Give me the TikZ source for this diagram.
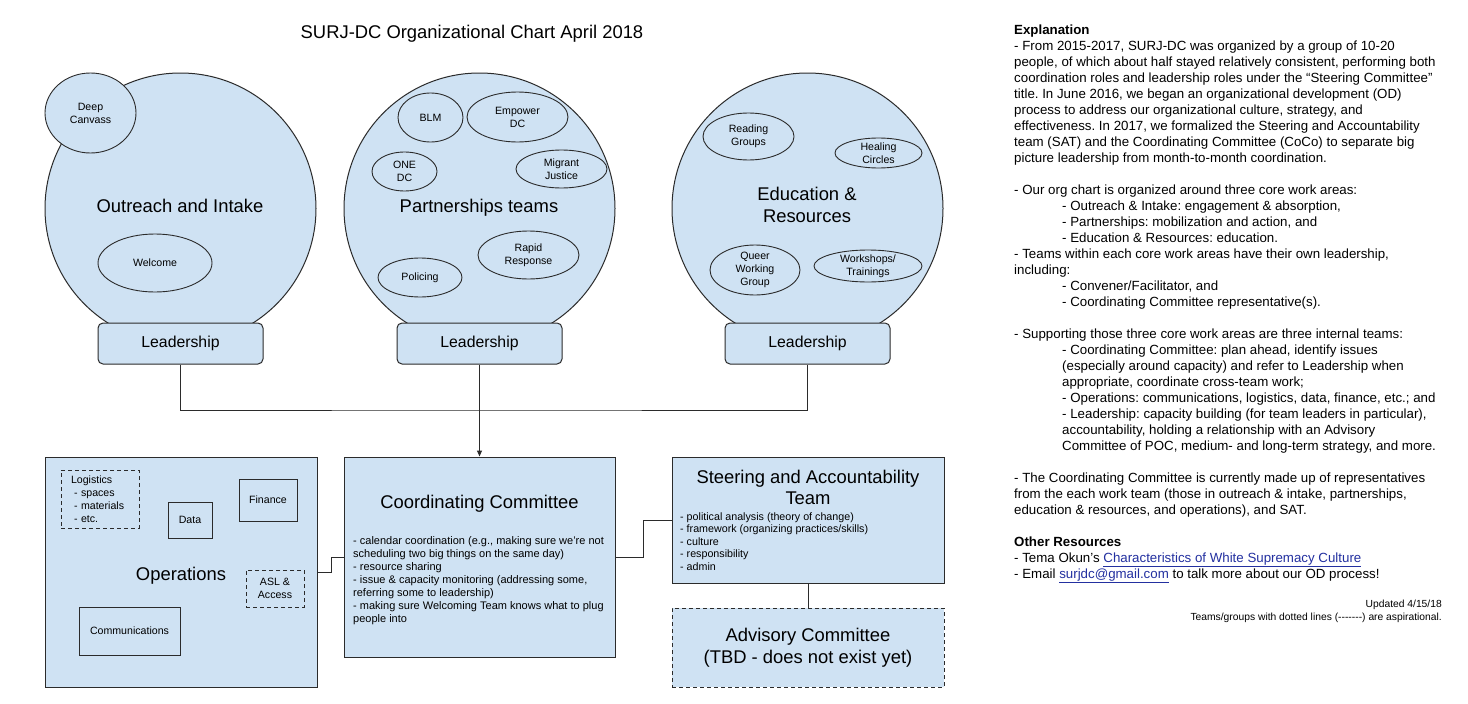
\documentclass[tikz,border=0pt]{standalone}
\usepackage{fontspec}
\setmainfont{Liberation Sans}
\usetikzlibrary{shapes.geometric,arrows.meta}
\definecolor{lb}{HTML}{CFE2F3}
\definecolor{ln}{HTML}{2B2B2B}
\definecolor{linkc}{HTML}{2330A0}
\newcommand\indt{\hspace*{48pt}}
\begin{document}
\frenchspacing
\begin{tikzpicture}[x=1pt,y=-1pt,
 every node/.style={inner sep=0pt, text=black},
 area/.style={circle, draw=ln, fill=lb, line width=1pt, minimum size=271pt},
 team/.style={ellipse, draw=ln, fill=lb, line width=0.9pt, align=center, inner sep=-2pt, font=\fontsize{10.6}{13}\selectfont},
 lead/.style={rectangle, rounded corners=5pt, draw=ln, fill=lb, line width=1pt, minimum width=165pt, minimum height=41pt, font=\fontsize{15.8}{19}\selectfont},
 bigbox/.style={rectangle, draw=ln, fill=lb, line width=1pt},
 subbox/.style={rectangle, draw=ln, fill=lb, line width=0.9pt, align=center, font=\fontsize{10.6}{13}\selectfont},
 aspire/.style={dash pattern=on 4pt off 3pt},
 big/.style={font=\fontsize{18.4}{22}\selectfont, align=center},
 bullets/.style={align=left, anchor=north west},
 conn/.style={draw=ln, line width=1pt}
]
\useasboundingbox[fill=white] (0,0) rectangle (1468,704);

% title
\node[big, anchor=base] (title) at (472,38) {SURJ-DC Organizational Chart April 2018};

% core work areas
\node[area] (oi) at (180.5,208.5) {};
\node[area] (pt) at (479.5,208.5) {};
\node[area] (er) at (807.5,208.5) {};

\node[team, minimum width=91pt, minimum height=80pt] (deep) at (90.5,113) {Deep\\Canvass};
\node[team, minimum width=114pt, minimum height=58pt] (welcome) at (155,263) {Welcome};
\node[big, anchor=base] (oil) at (180,212) {Outreach and Intake};

\node[team, minimum width=65pt, minimum height=49pt] (blm) at (430.5,117.5) {BLM};
\node[team, minimum width=101pt, minimum height=50pt] (empower) at (517.5,117) {Empower\\DC};
\node[team, minimum width=65pt, minimum height=39pt] (onedc) at (404.5,171.5) {ONE\\DC};
\node[team, minimum width=91pt, minimum height=38pt] (migrant) at (561.5,169) {Migrant\\Justice};
\node[team, minimum width=101pt, minimum height=48pt] (rapid) at (528.5,255) {Rapid\\Response};
\node[team, minimum width=84pt, minimum height=39pt] (policing) at (420,277.5) {Policing};
\node[big, anchor=base] (ptl) at (479,212) {Partnerships teams};

\node[team, minimum width=91pt, minimum height=47pt] (reading) at (748.5,136.5) {Reading\\Groups};
\node[team, minimum width=87pt, minimum height=30pt] (healing) at (878.5,153) {Healing\\Circles};
\node[team, minimum width=90pt, minimum height=50pt] (queer) at (755,270) {Queer\\Working\\Group};
\node[team, minimum width=108pt, minimum height=32pt] (workshops) at (868,266) {Workshops/\\Trainings};
\node[big, anchor=north] (erl) at (807,186.6) {Education \&\\Resources};

\node[lead] (lead1) at (180.5,343.5) {Leadership};
\node[lead] (lead2) at (479.5,343.5) {Leadership};
\node[lead] (lead3) at (807.5,343.5) {Leadership};

% internal teams
\node[bigbox, minimum width=272pt, minimum height=230pt] (ops) at (181,572) {};
\node[subbox, aspire, minimum height=58pt, text width=58pt, inner xsep=10pt, align=left] (logistics) at (100,499) {Logistics\\\hspace*{3pt}- spaces\\\hspace*{3pt}- materials\\\hspace*{3pt}- etc.};
\node[subbox, minimum width=44pt, minimum height=36pt] (data) at (190,520) {Data};
\node[subbox, minimum width=58pt, minimum height=42pt] (finance) at (268,500) {Finance};
\node[subbox, aspire, minimum width=58pt, minimum height=37pt] (asl) at (275,588.5) {ASL \&\\Access};
\node[subbox, minimum width=101pt, minimum height=48pt] (comm) at (129.5,631) {Communications};
\node[big, anchor=base] (opsl) at (181,580) {Operations};

\node[bigbox, minimum width=271pt, minimum height=200pt] (coco) at (479.5,557) {};
\node[big, anchor=base] (cocol) at (479.5,508) {Coordinating Committee};
\node[bullets, font=\fontsize{11}{13}\selectfont] (cocot) at (353,536) {- calendar coordination (e.g., making sure we’re not\\
scheduling two big things on the same day)\\
- resource sharing\\
- issue \& capacity monitoring (addressing some,\\
referring some to leadership)\\
- making sure Welcoming Team knows what to plug\\
people into};

\node[bigbox, minimum width=272pt, minimum height=126pt] (sat) at (808,520) {};
\node[big, anchor=north, font=\fontsize{18.4}{21}\selectfont] (satl) at (808,469.6) {Steering and Accountability\\Team};
\node[bullets, font=\fontsize{10.7}{12.5}\selectfont] (satt) at (680,512.2) {- political analysis (theory of change)\\
- framework (organizing practices/skills)\\
- culture\\
- responsibility\\
- admin};

\node[bigbox, aspire, minimum width=272pt, minimum height=79pt, big] (adv) at (808,647.5) {Advisory Committee\\(TBD - does not exist yet)};

% connectors
\coordinate (join) at (479.5,410);
\draw[conn] (lead1.south) |- (join) -| (lead3.south);
\draw[conn, -{Triangle[length=6pt,width=5pt]}] (lead2.south) -- (coco.north);
\draw[conn] (ops.east) -- ++(14,0) |- (coco.west);
\draw[conn] (coco.east) -- ++(28,0) |- (sat.west);
\draw[conn] (sat.south) -- (adv.north);

% explanation
\node[bullets, font=\fontsize{13.3}{16}\selectfont] (expl) at (1014,24.3) {\textbf{Explanation}\\
- From 2015-2017, SURJ-DC was organized by a group of 10-20\\
people, of which about half stayed relatively consistent, performing both\\
coordination roles and leadership roles under the “Steering Committee”\\
title. In June 2016, we began an organizational development (OD)\\
process to address our organizational culture, strategy, and\\
effectiveness. In 2017, we formalized the Steering and Accountability\\
team (SAT) and the Coordinating Committee (CoCo) to separate big\\
picture leadership from month-to-month coordination.\\[16pt]
- Our org chart is organized around three core work areas:\\
\indt- Outreach \& Intake: engagement \& absorption,\\
\indt- Partnerships: mobilization and action, and\\
\indt- Education \& Resources: education.\\
- Teams within each core work areas have their own leadership,\\
including:\\
\indt- Convener/Facilitator, and\\
\indt- Coordinating Committee representative(s).\\[16pt]
- Supporting those three core work areas are three internal teams:\\
\indt- Coordinating Committee: plan ahead, identify issues\\
\indt(especially around capacity) and refer to Leadership when\\
\indt appropriate, coordinate cross-team work;\\
\indt- Operations: communications, logistics, data, finance, etc.; and\\
\indt- Leadership: capacity building (for team leaders in particular),\\
\indt accountability, holding a relationship with an Advisory\\
\indt Committee of POC, medium- and long-term strategy, and more.\\[16pt]
- The Coordinating Committee is currently made up of representatives\\
from the each work team (those in outreach \& intake, partnerships,\\
education \& resources, and operations), and SAT.\\[16pt]
\textbf{Other Resources}\\
- Tema Okun’s {\color{linkc}\underline{Characteristics of White Supremacy Culture}}\\
- Email {\color{linkc}\underline{surjdc@gmail.com}} to talk more about our OD process!};

\node[align=right, anchor=north east, font=\fontsize{10.3}{13}\selectfont] (note) at (1442,599.5) {Updated 4/15/18\\Teams/groups with dotted lines (-{}-{}-{}-{}-{}-{}-) are aspirational.};
\end{tikzpicture}
\end{document}
